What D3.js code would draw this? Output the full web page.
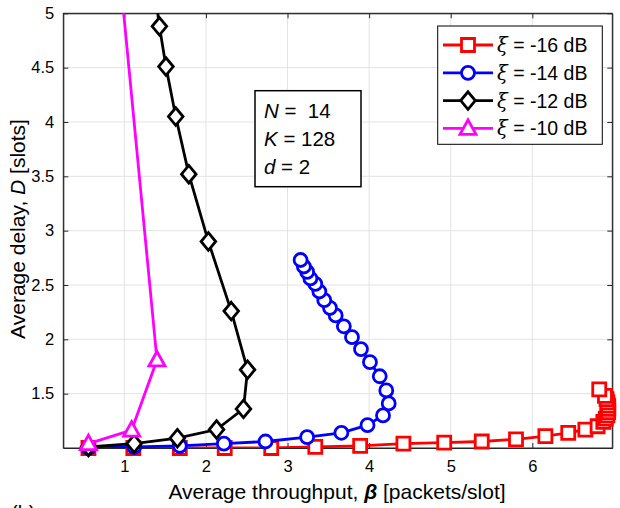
<!DOCTYPE html>
<head>
  <meta charset="utf-8">
  <script src="https://d3js.org/d3.v7.min.js"></script>
  <style>
    body { margin: 0; background: #fff; }
    text { font-family: 'Liberation Sans', Arial, sans-serif; fill: #000; }
    .grid line { stroke: #e3e3e3; stroke-width: 1px; }
  </style>
</head>
<body>
  <div id="chart"></div>
  <script>
    // series: throughput (beta) and delay (D) per xi
    var beta16 = [0.56, 1.11, 1.68, 2.23, 2.80, 3.34, 3.89, 4.42, 4.92, 5.38, 5.80, 6.16, 6.44, 6.65, 6.80, 6.87, 6.90, 6.92, 6.93, 6.93, 6.93, 6.92, 6.91, 6.89, 6.82];
    var delay16 = [1.00, 1.00, 1.00, 1.00, 1.00, 1.01, 1.02, 1.04, 1.05, 1.06, 1.08, 1.11, 1.14, 1.17, 1.20, 1.24, 1.27, 1.30, 1.33, 1.36, 1.39, 1.42, 1.45, 1.48, 1.54];

    var beta14 = [0.56, 1.12, 1.68, 2.22, 2.73, 3.24, 3.66, 3.98, 4.17, 4.24, 4.21, 4.13, 4.01, 3.90, 3.79, 3.69, 3.59, 3.52, 3.45, 3.39, 3.34, 3.28, 3.24, 3.20, 3.16];
    var delay14 = [1.00, 1.01, 1.02, 1.04, 1.06, 1.10, 1.14, 1.21, 1.30, 1.41, 1.53, 1.66, 1.79, 1.91, 2.02, 2.12, 2.22, 2.29, 2.36, 2.44, 2.51, 2.56, 2.62, 2.67, 2.73];

    var beta12 = [0.56, 1.12, 1.65, 2.13, 2.46, 2.51, 2.31, 2.03, 1.79, 1.63, 1.51, 1.43, 1.37];
    var delay12 = [1.01, 1.04, 1.09, 1.17, 1.36, 1.72, 2.26, 2.90, 3.52, 4.05, 4.51, 4.88, 5.23];

    var beta10 = [0.56, 1.09, 1.40, 0.80];
    var delay10 = [1.04, 1.165, 1.81, 6.5];

    var xTicks = [1, 2, 3, 4, 5, 6];
    var yTicks = [1.5, 2, 2.5, 3, 3.5, 4, 4.5, 5];

    var legendLabels = ['-16 dB', '-14 dB', '-12 dB', '-10 dB'];

    var series = [
      {beta: beta16, delay: delay16, color: '#ff0000', marker: 'square'},
      {beta: beta14, delay: delay14, color: '#0000ff', marker: 'circle'},
      {beta: beta12, delay: delay12, color: '#000000', marker: 'diamond'},
      {beta: beta10, delay: delay10, color: '#ff00ff', marker: 'triangle'}
    ];

    var W = 620, H = 508;
    var pLeft = 63.3, pRight = 612.3, pTop = 13.3, pBottom = 448;

    var svg = d3.select('#chart').append('svg')
      .attr('width', W)
      .attr('height', H);

    var x = d3.scaleLinear().domain([0.252, 6.98]).range([pLeft, pRight]);
    var y = d3.scaleLinear().domain([1, 5]).range([pBottom, pTop]);

    // grid
    var grid = svg.append('g').attr('class', 'grid');
    grid.selectAll('.gx').data(xTicks).enter().append('line')
      .attr('x1', d => x(d)).attr('x2', d => x(d))
      .attr('y1', pTop).attr('y2', pBottom);
    grid.selectAll('.gy').data(yTicks).enter().append('line')
      .attr('y1', d => y(d)).attr('y2', d => y(d))
      .attr('x1', pLeft).attr('x2', pRight);

    // axes with inward ticks on all four sides
    svg.append('g')
      .attr('transform', 'translate(0,' + pBottom + ')')
      .call(d3.axisBottom(x).tickValues(xTicks).tickSize(-5).tickSizeOuter(0).tickPadding(12)
        .tickFormat(d3.format('d')));
    svg.append('g')
      .attr('transform', 'translate(' + pLeft + ',0)')
      .call(d3.axisLeft(y).tickValues(yTicks).tickSize(-5).tickSizeOuter(0).tickPadding(9)
        .tickFormat(d3.format('')));
    svg.append('g')
      .attr('transform', 'translate(0,' + pTop + ')')
      .call(d3.axisTop(x).tickValues(xTicks).tickSize(-5).tickSizeOuter(0).tickFormat(''));
    svg.append('g')
      .attr('transform', 'translate(' + pRight + ',0)')
      .call(d3.axisRight(y).tickValues(yTicks).tickSize(-5).tickSizeOuter(0).tickFormat(''));

    svg.selectAll('.domain').attr('stroke', '#262626');
    svg.selectAll('.tick line').attr('stroke', '#262626');
    svg.selectAll('.tick text')
      .attr('font-size', 16.5)
      .attr('font-family', "'Liberation Sans', Arial, sans-serif")
      .attr('fill', '#262626');

    svg.append('rect')
      .attr('x', pLeft).attr('y', pTop)
      .attr('width', pRight - pLeft).attr('height', pBottom - pTop)
      .attr('fill', 'none').attr('stroke', '#262626').attr('stroke-width', 1);

    svg.append('clipPath').attr('id', 'plotclip')
      .append('rect')
      .attr('x', pLeft).attr('y', pTop)
      .attr('width', pRight - pLeft).attr('height', pBottom - pTop);

    function markerPath(type) {
      if (type === 'square') return 'M-6.5,-6.5H6.5V6.5H-6.5Z';
      if (type === 'diamond') return 'M0,-8.8L7.3,0L0,8.8L-7.3,0Z';
      if (type === 'triangle') return 'M0,-8.5L8,6L-8,6Z';
      return null;
    }

    function drawMarker(g, type, color) {
      if (type === 'circle') {
        g.append('circle').attr('r', 6.5)
          .attr('fill', '#fff').attr('stroke', color).attr('stroke-width', 2.8);
      } else {
        g.append('path').attr('d', markerPath(type))
          .attr('fill', '#fff').attr('stroke', color).attr('stroke-width', 2.8)
          .attr('stroke-linejoin', 'miter');
      }
    }

    var line = d3.line().x(d => x(d[0])).y(d => y(d[1]));

    series.forEach(function (s) {
      var pts = s.beta.map((b, i) => [b, s.delay[i]]);
      var g = svg.append('g');
      g.append('path')
        .attr('clip-path', 'url(#plotclip)')
        .attr('d', line(pts))
        .attr('fill', 'none')
        .attr('stroke', s.color)
        .attr('stroke-width', 2.8);
      g.selectAll('.m')
        .data(pts.filter(p => p[1] <= 5))
        .enter().append('g')
        .attr('transform', d => 'translate(' + x(d[0]) + ',' + y(d[1]) + ')')
        .each(function () { drawMarker(d3.select(this), s.marker, s.color); });
    });

    // axis labels
    var xl = svg.append('text')
      .attr('x', 337).attr('y', 499)
      .attr('text-anchor', 'middle')
      .style('font-size', '21px');
    xl.append('tspan').text('Average throughput, ');
    xl.append('tspan').attr('font-weight', 'bold').attr('font-style', 'italic').text('\u03b2');
    xl.append('tspan').text(' [packets/slot]');

    var yl = svg.append('text')
      .attr('transform', 'translate(25,229) rotate(-90)')
      .attr('text-anchor', 'middle')
      .style('font-size', '21px');
    yl.append('tspan').text('Average delay, ');
    yl.append('tspan').attr('font-style', 'italic').text('D');
    yl.append('tspan').text(' [slots]');

    svg.append('text')
      .attr('x', 11).attr('y', 520)
      .style('font-size', '20px')
      .text('(b)');

    // legend
    var lg = svg.append('g');
    lg.append('rect')
      .attr('x', 437.7).attr('y', 26)
      .attr('width', 164.6).attr('height', 118.3)
      .attr('fill', '#fff').attr('stroke', '#000').attr('stroke-width', 1);
    series.forEach(function (s, i) {
      var ly = 45 + i * 27.8;
      lg.append('line')
        .attr('x1', 443).attr('x2', 493).attr('y1', ly).attr('y2', ly)
        .attr('stroke', s.color).attr('stroke-width', 2.8);
      var mg = lg.append('g').attr('transform', 'translate(468,' + ly + ')');
      drawMarker(mg, s.marker, s.color);
      var t = lg.append('text')
        .attr('x', 497).attr('y', ly + 7)
        .style('font-size', '19.5px');
      t.append('tspan').attr('font-style', 'italic').attr('font-family', 'DejaVu Serif').text('\u03be');
      t.append('tspan').text(' = ' + legendLabels[i]);
    });

    // parameter box
    var pb = svg.append('g');
    pb.append('rect')
      .attr('x', 255).attr('y', 90.7)
      .attr('width', 106).attr('height', 96)
      .attr('fill', '#fff').attr('stroke', '#000').attr('stroke-width', 1.5);
    var params = [['N', ' =  14'], ['K', ' = 128'], ['d', ' = 2']];
    params.forEach(function (p, i) {
      var t = pb.append('text')
        .attr('x', 264).attr('y', 118 + i * 27.8)
        .attr('xml:space', 'preserve')
        .style('white-space', 'pre')
        .style('font-size', '20.5px');
      t.append('tspan').attr('font-style', 'italic').text(p[0]);
      t.append('tspan').text(p[1]);
    });
  </script>
</body>
